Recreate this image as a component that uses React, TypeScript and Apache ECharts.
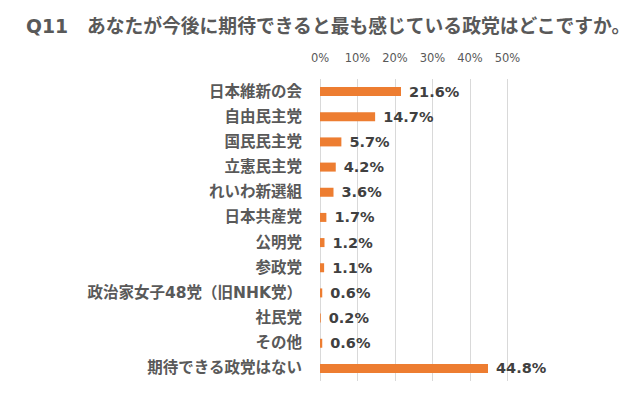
import React, { useEffect, useRef } from "react";
import * as echarts from "echarts";

const titleText = "Q11　あなたが今後に期待できると最も感じている政党はどこですか。";
const categories = [
  "日本維新の会",
  "自由民主党",
  "国民民主党",
  "立憲民主党",
  "れいわ新選組",
  "日本共産党",
  "公明党",
  "参政党",
  "政治家女子48党（旧NHK党）",
  "社民党",
  "その他",
  "期待できる政党はない",
];
const values = [21.6, 14.7, 5.7, 4.2, 3.6, 1.7, 1.2, 1.1, 0.6, 0.2, 0.6, 44.8];
const axisMin = 0;
const axisMax = 50;
const axisStep = 10;

const FONT = "'DejaVu Sans', 'Noto Sans CJK JP', sans-serif";

export default function App() {
  const ref = useRef<HTMLDivElement>(null);
  useEffect(() => {
    if (!ref.current) return;
    const chart = echarts.init(ref.current, undefined, { renderer: "svg" });
    chart.setOption({
      animation: false,
      backgroundColor: "#ffffff",
      title: {
        text: titleText,
        left: 21,
        top: 12,
        textStyle: {
          fontFamily: FONT,
          fontSize: 18.8,
          fontWeight: "bold",
          color: "#595959",
        },
      },
      grid: { left: 320, right: 132.5, top: 79, bottom: 15, containLabel: false },
      xAxis: {
        type: "value",
        position: "top",
        min: axisMin,
        max: axisMax,
        interval: axisStep,
        axisLine: { show: false },
        axisTick: { show: false },
        axisLabel: {
          formatter: "{value}%",
          margin: 15,
          fontFamily: FONT,
          fontSize: 11.5,
          color: "#595959",
        },
        splitLine: { show: true, lineStyle: { color: "#d9d9d9", width: 1 } },
      },
      yAxis: {
        type: "category",
        data: categories,
        inverse: true,
        axisLine: { show: false },
        axisTick: { show: false },
        axisLabel: {
          margin: 18,
          fontFamily: FONT,
          fontSize: 15.5,
          fontWeight: "bold",
          color: "#595959",
        },
      },
      series: [
        {
          type: "bar",
          data: values,
          barWidth: 9,
          itemStyle: { color: "#ED7D31" },
          label: {
            show: true,
            position: "right",
            distance: 8,
            formatter: (p: any) => `${p.value.toFixed(1)}%`,
            fontFamily: FONT,
            fontSize: 14.5,
            fontWeight: "bold",
            color: "#404040",
          },
        },
      ],
    });
    return () => chart.dispose();
  }, []);
  return <div ref={ref} style={{ width: 640, height: 396, position: "absolute", left: 0, top: 0 }} />;
}
